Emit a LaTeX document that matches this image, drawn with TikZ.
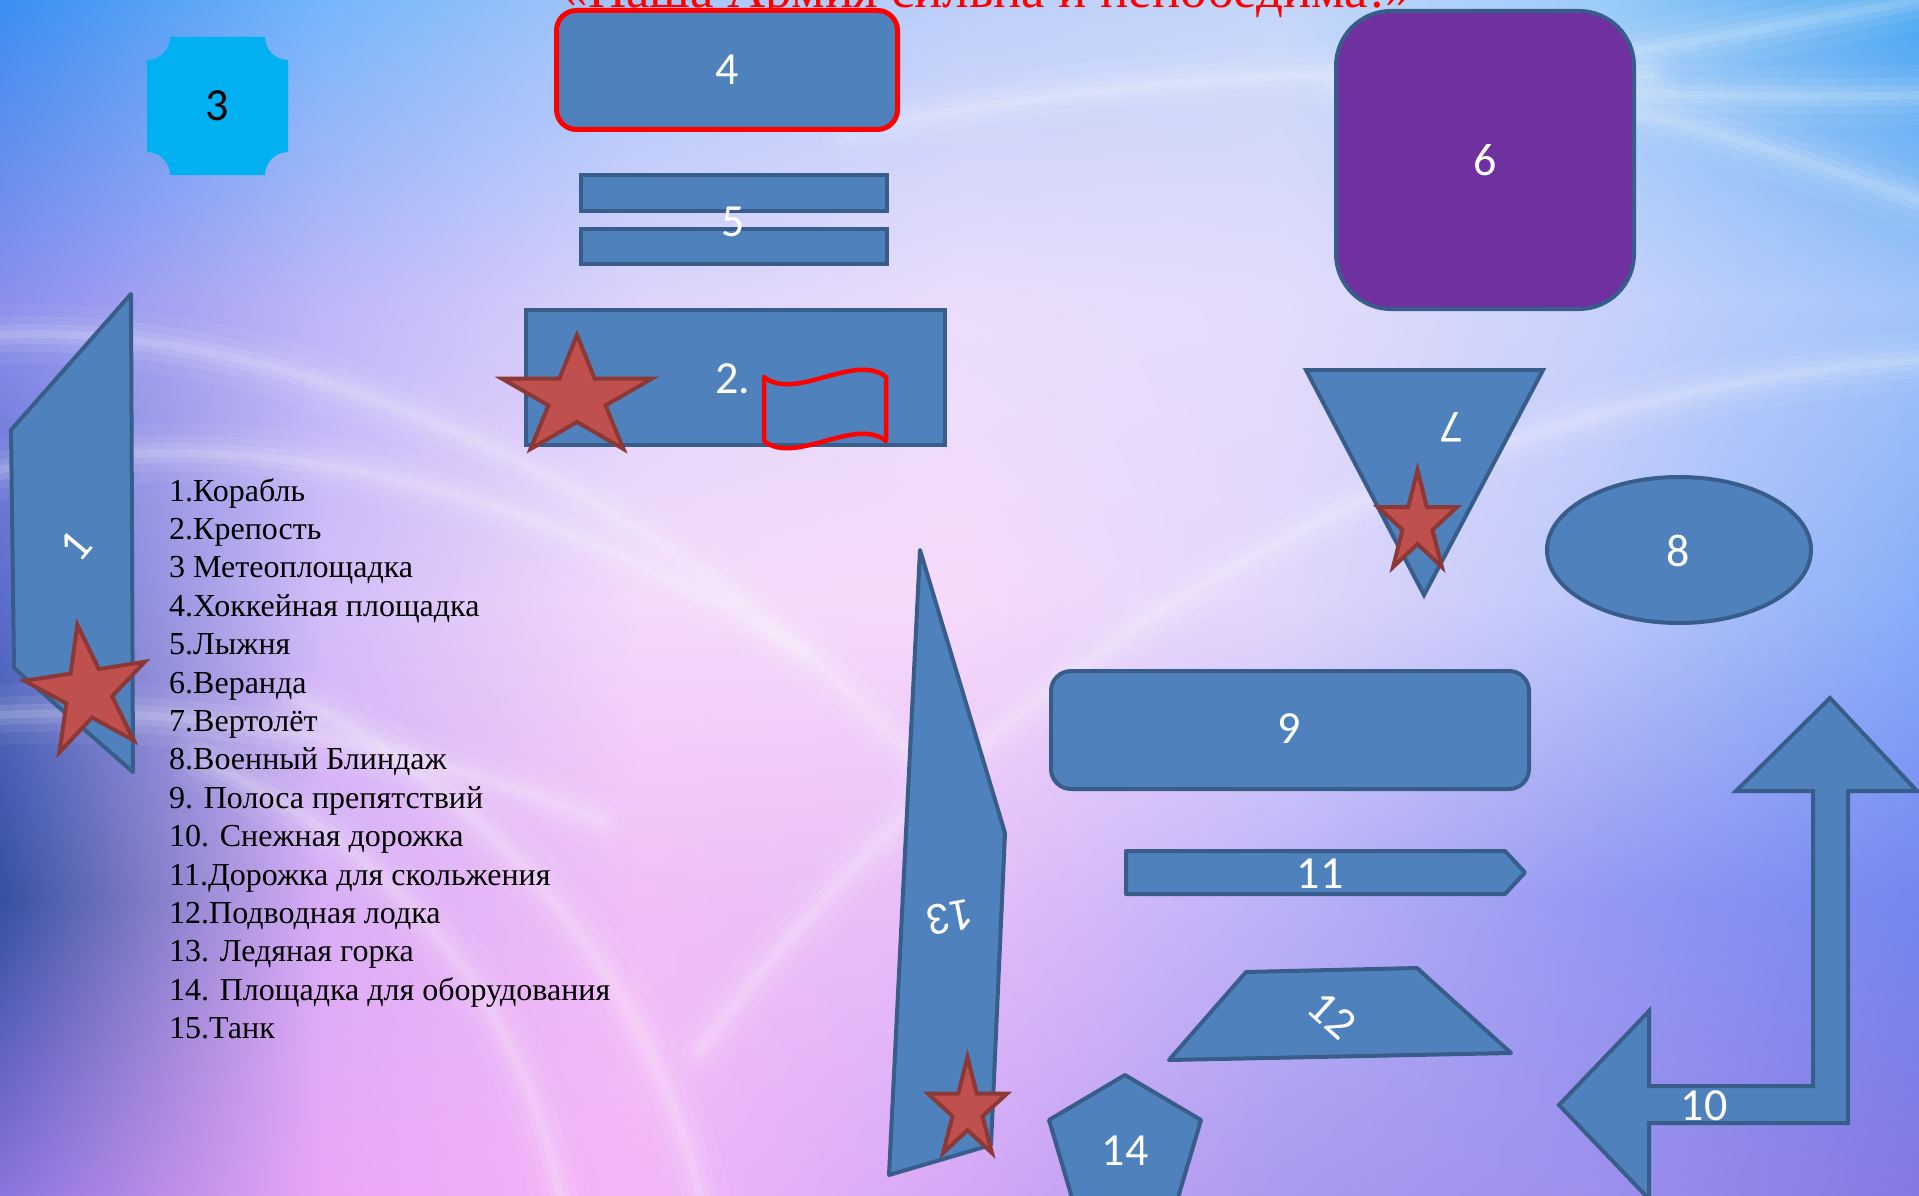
\documentclass[tikz,border=0pt]{standalone}
\usepackage{fontspec}
\setmainfont{Liberation Serif}
\newfontfamily\numfont{Carlito}
\usetikzlibrary{fadings,shadings}
\definecolor{shapeblue}{HTML}{4F81BD}
\definecolor{edgeblue}{HTML}{385D8A}
\definecolor{starred}{HTML}{C0504D}
\definecolor{staredge}{HTML}{8C3836}
\definecolor{cyanfill}{HTML}{00B0F0}
\definecolor{purplefill}{HTML}{7030A0}
\definecolor{flagred}{HTML}{FF0000}
% background grid colours
\definecolor{g00}{HTML}{3A8EF2}\definecolor{g10}{HTML}{74B6FA}\definecolor{g20}{HTML}{A6C6FA}\definecolor{g30}{HTML}{BCCFFA}\definecolor{g40}{HTML}{C4D6FA}\definecolor{g50}{HTML}{9CCCF8}\definecolor{g60}{HTML}{48A6F2}
\definecolor{g01}{HTML}{8A8EEC}\definecolor{g11}{HTML}{BDB6F8}\definecolor{g21}{HTML}{DCD4FB}\definecolor{g31}{HTML}{EADDFB}\definecolor{g41}{HTML}{E4DCFB}\definecolor{g51}{HTML}{C8D2FB}\definecolor{g61}{HTML}{A2C4F9}
\definecolor{g02}{HTML}{5A6CC8}\definecolor{g12}{HTML}{D2BCF8}\definecolor{g22}{HTML}{F4DAFA}\definecolor{g32}{HTML}{F6DAFA}\definecolor{g42}{HTML}{E2D6FB}\definecolor{g52}{HTML}{BCC8FA}\definecolor{g62}{HTML}{86AEF8}
\definecolor{g03}{HTML}{34509F}\definecolor{g13}{HTML}{D8AEF6}\definecolor{g23}{HTML}{F2BEF8}\definecolor{g33}{HTML}{E6BEF8}\definecolor{g43}{HTML}{BBB2F8}\definecolor{g53}{HTML}{9498F2}\definecolor{g63}{HTML}{7486F0}
\definecolor{g04}{HTML}{8A74DC}\definecolor{g14}{HTML}{EAA6F6}\definecolor{g24}{HTML}{F4B6F8}\definecolor{g34}{HTML}{D4A8F6}\definecolor{g44}{HTML}{AA9AF0}\definecolor{g54}{HTML}{9C90EC}\definecolor{g64}{HTML}{8478E2}
\tikzset{
  shp/.style={fill=shapeblue, draw=edgeblue, line width=4pt, line join=round},
  starshp/.style={fill=starred, draw=staredge, line width=4pt, line join=miter},
  num/.style={text=white, font=\numfont\fontsize{46}{50}\selectfont, inner sep=0pt},
  listtxt/.style={font=\fontsize{32}{38}\selectfont, anchor=base west, inner sep=0pt},
}
\newcommand{\swoosh}[1]{\foreach \w/\o in {60/0.05,36/0.08,20/0.1,8/0.12}{\draw[white, line width=\w pt, opacity=\o, line cap=round] #1;}}
\newcommand{\mystar}[5]{%
  \begin{scope}[shift={(#1,#2)}, rotate=#5, xscale=#3, yscale=#4]
    \draw[starshp] (0,-1) -- (-0.2234,-0.3074) -- (-0.9511,-0.3090) -- (-0.3614,0.1174) -- (-0.5878,0.8090) -- (0,0.38) -- (0.5878,0.8090) -- (0.3614,0.1174) -- (0.9511,-0.3090) -- (0.2234,-0.3074) -- cycle;
  \end{scope}}
\begin{document}
\begin{tikzpicture}[x=1pt,y=-1pt]
\useasboundingbox (0,0) rectangle (1919,1196);
\begin{scope}
\clip (0,0) rectangle (1919,1196);
% background
\foreach \xa/\xb/\ia/\ib in {0/320/0/1,320/640/1/2,640/960/2/3,960/1280/3/4,1280/1600/4/5,1600/1919/5/6}{
  \foreach \ya/\yb/\ja/\jb in {0/300/0/1,300/600/1/2,600/900/2/3,900/1196/3/4}{
    \shade[upper left=g\ia\ja, upper right=g\ib\ja, lower left=g\ia\jb, lower right=g\ib\jb] (\xa-0.5,\ya-0.5) rectangle (\xb+0.5,\yb+0.5);
  }
}
\swoosh{(1340,90) .. controls (1500,80) and (1700,40) .. (1919,0)}
\swoosh{(1400,90) .. controls (1600,90) and (1780,100) .. (1919,95)}
\swoosh{(1450,85) .. controls (1650,100) and (1800,160) .. (1919,200)}
\swoosh{(850,130) .. controls (1050,90) and (1300,60) .. (1650,75)}
\swoosh{(700,1050) .. controls (1000,650) and (1400,400) .. (1919,360)}
\swoosh{(0,335) .. controls (300,320) and (700,500) .. (950,800)}
\swoosh{(0,470) .. controls (250,420) and (520,480) .. (800,650)}
\swoosh{(0,715) .. controls (200,705) and (400,740) .. (600,820)}
\swoosh{(560,1196) .. controls (520,1000) and (400,850) .. (200,760)}
\swoosh{(700,1196) .. controls (650,980) and (500,800) .. (300,700)}
% title
\node[text=flagred, font=\fontsize{53}{60}\selectfont, anchor=base, inner sep=0pt] (title) at (987,8) {«Наша Армия сильна и непобедима!»};
% shape 3
\fill[cyanfill] (170,37) -- (265,37) .. controls (265,49.7) and (275.3,60) .. (288,60) -- (288,152) .. controls (275.3,152) and (265,162.3) .. (265,175) -- (170,175) .. controls (170,162.3) and (159.7,152) .. (147,152) -- (147,60) .. controls (159.7,60) and (170,49.7) .. (170,37) -- cycle;
\node[num, text=black] (n3) at (217,106) {3};
% shape 4
\draw[fill=shapeblue, draw=flagred, line width=5pt, rounded corners=20pt] (556.5,10.5) rectangle (897.5,129.5);
\node[num] (n4) at (727,70) {4};
% shape 5
\draw[shp, line join=miter] (581,175) rectangle (887,211);
\draw[shp, line join=miter] (581,229) rectangle (887,264);
\node[num] (n5) at (733,222) {5};
% shape 2
\draw[shp, line join=miter] (526,310) rectangle (945,445);
\node[num] (n2) at (733,379) {2.};
\draw[flagred, line width=4.5pt, line join=round] (764,377) .. controls (795,402) and (855,352) .. (886,377) -- (886,441) .. controls (855,416) and (795,466) .. (764,441) -- cycle;
\mystar{577}{398}{79}{63}{0}
% shape 6
\draw[fill=purplefill, draw=edgeblue, line width=4pt, rounded corners=55pt] (1336,11) rectangle (1634,309);
\node[num] (n6) at (1485,160) {6};
% shape 7
\draw[shp, line join=miter] (1306,370) -- (1543,370) -- (1424,595) -- cycle;
\node[num, rotate=180] (n7) at (1452,427) {7};
\mystar{1417.5}{523.6}{41.5}{53.6}{0}
% shape 8
\draw[shp] (1679,550) ellipse (132 and 73);
\node[num] (n8) at (1678,551) {8};
% shape 1
\draw[shp] (131,294) -- (11,430) -- (14,668) -- (133,772) -- cycle;
\node[num, rotate=50] (n1) at (76,546) {1};
\mystar{88}{692}{64}{68}{9}
% shape 9
\draw[shp, rounded corners=20pt] (1051,671) rectangle (1529,789);
\node[num] (n9) at (1289,729) {9};
% shape 11
\draw[shp] (1126,851) -- (1505,851) -- (1525,872.5) -- (1505,894) -- (1126,894) -- cycle;
\node[num] (n11) at (1320,874) {11};
% shape 12
\draw[shp] (1246,972) -- (1417,968) -- (1511,1053) -- (1169,1060) -- cycle;
\node[num, rotate=-42] (n12) at (1332,1015) {12};
% shape 13
\draw[shp] (920,550) -- (1005,833) -- (991,1145) -- (889,1175) -- cycle;
\node[num, rotate=191] (n13) at (950,917) {13};
\mystar{967.5}{1110}{41.5}{53}{0}
% shape 14
\draw[shp] (1125,1075) -- (1201,1120) -- (1172,1218) -- (1078,1218) -- (1049,1120) -- cycle;
\node[num] (n14) at (1125,1151) {14};
% shape 10
\draw[shp, line join=miter] (1830,698) -- (1917,791) -- (1848,791) -- (1848,1123) -- (1649,1123) -- (1649,1199) -- (1559,1105) -- (1649,1011) -- (1649,1086) -- (1813,1086) -- (1813,791) -- (1736,791) -- cycle;
\node[num] (n10) at (1704,1106) {10};
% legend
\foreach \t [count=\i] in {1.Корабль, 2.Крепость, 3 Метеоплощадка, 4.Хоккейная площадка, 5.Лыжня, 6.Веранда, 7.Вертолёт, 8.Военный Блиндаж, 9. Полоса препятствий, 10. Снежная дорожка, 11.Дорожка для скольжения, 12.Подводная лодка, 13. Ледяная горка, 14. Площадка для оборудования, 15.Танк}{
  \node[listtxt] (l\i) at (169,{501+38.4*(\i-1)}) {\t};
}
\end{scope}
\end{tikzpicture}
\end{document}
